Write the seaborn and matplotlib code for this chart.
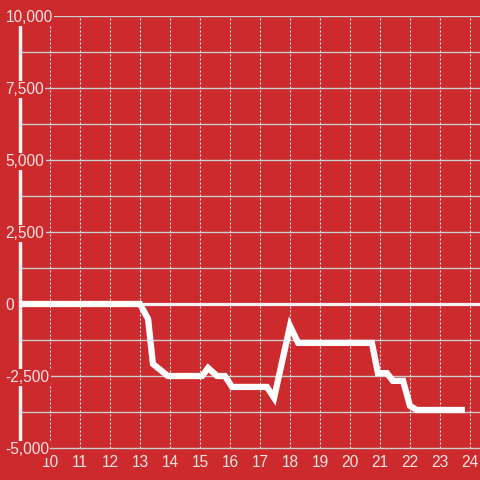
import numpy as np
import pandas as pd
import seaborn as sns
import matplotlib.pyplot as plt
from matplotlib.ticker import FuncFormatter

# data
x_vals = [9.0, 13.0, 13.27, 13.43, 13.93, 15.07, 15.27, 15.57, 15.83, 16.07, 17.23,
          17.47, 18.0, 18.27, 20.73, 20.93, 21.23, 21.43, 21.77, 22.0, 22.23, 23.83]
y_vals = [0, 0, -520, -2080, -2500, -2500, -2220, -2500, -2500, -2880, -2880,
          -3260, -760, -1350, -1350, -2400, -2400, -2670, -2670, -3540, -3680, -3680]
x_ticks = list(range(10, 25))
y_ticks = [-5000, -2500, 0, 2500, 5000, 7500, 10000]

bg = '#cd2a2e'
text_col = '#f3e4e4'
grid_col = '#cccccc'

sns.set_style('white')
plt.rcParams['font.family'] = ['Liberation Sans', 'DejaVu Sans']

df = pd.DataFrame({'x': x_vals, 'y': y_vals})

fig = plt.figure(figsize=(4.8, 4.8), dpi=100, facecolor=bg)
ax = fig.add_axes([20 / 480, 32 / 480, 460 / 480, 432 / 480])
ax.set_facecolor(bg)

ax.set_xlim(9, 24.333)
ax.set_ylim(-5000, 10000)

# horizontal grid every 1250 (the bottom one is the x axis line)
for v in np.arange(-3750, 10001, 1250):
    ax.axhline(v, color=grid_col, lw=1, zorder=0.5)
# vertical dotted grid, one per tick
for v in x_ticks:
    ax.axvline(v, color='#ececec', lw=0.8, ls=(0, (1.8, 1.8)), zorder=0.5, snap=True)

# zero line
ax.axhline(0, color='#f2f2f2', lw=2.3, zorder=0.6)

sns.lineplot(data=df, x='x', y='y', ax=ax, color='white', lw=4.5,
             solid_capstyle='butt', solid_joinstyle='miter', zorder=3)

ax.set_xticks(x_ticks)
ax.set_yticks(y_ticks)
ax.yaxis.set_major_formatter(FuncFormatter(lambda v, p: f'{int(v):,}'))
ax.tick_params(axis='both', length=0, labelsize=11.2, labelcolor=text_col)
ax.tick_params(axis='x', pad=5)
ax.tick_params(axis='y', pad=10.5)
for lab in ax.get_yticklabels():
    lab.set_horizontalalignment('left')
    lab.set_bbox(dict(facecolor=bg, edgecolor='none', pad=1))
ax.yaxis.set_zorder(2)
ax.set_xlabel('')
ax.set_ylabel('')

for s in ['top', 'right']:
    ax.spines[s].set_visible(False)
ax.spines['left'].set_color('#f2f2f2')
ax.spines['left'].set_linewidth(2.5)
ax.spines['left'].set_bounds(-5000, 9720)
ax.spines['left'].set_zorder(1)
ax.spines['bottom'].set_color(grid_col)
ax.spines['bottom'].set_linewidth(1)
ax.spines['bottom'].set_bounds(10, 24.333)

fig.savefig('out.png', dpi=100, facecolor=bg)
